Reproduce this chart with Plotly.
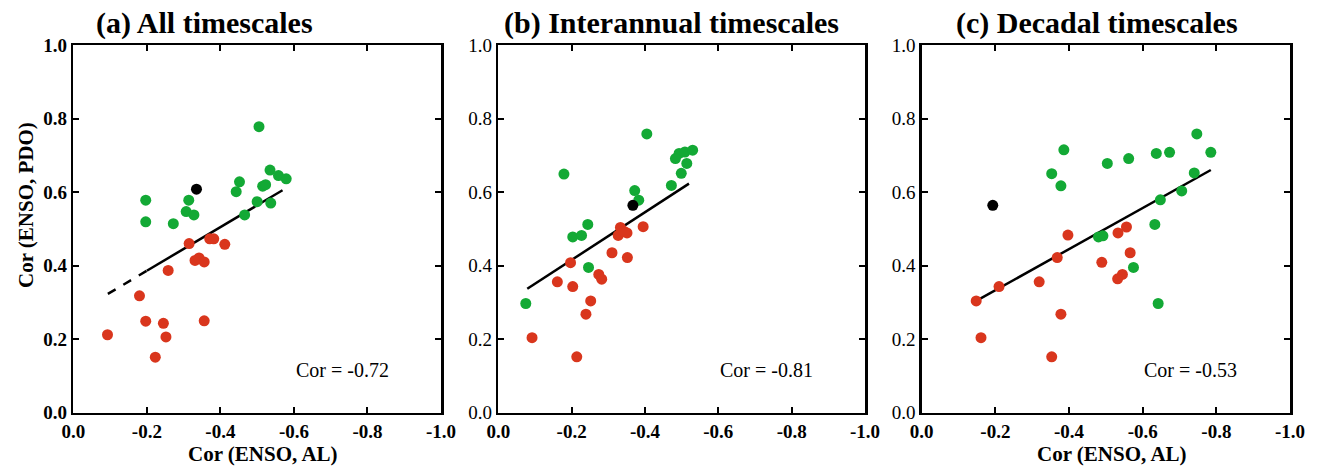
import plotly.graph_objects as go

# ---------------- data ----------------
# Panel (a) All timescales
a_green_x = [-0.505, -0.197, -0.197, -0.272, -0.307, -0.314, -0.328, -0.443, -0.452, -0.466,
             -0.500, -0.515, -0.523, -0.535, -0.537, -0.558, -0.579]
a_green_y = [0.778, 0.578, 0.519, 0.514, 0.547, 0.578, 0.538, 0.601, 0.628, 0.538,
             0.574, 0.616, 0.620, 0.660, 0.570, 0.645, 0.636]
a_red_x = [-0.315, -0.371, -0.382, -0.412, -0.331, -0.342, -0.356, -0.258, -0.180, -0.197,
           -0.245, -0.252, -0.356, -0.093, -0.223]
a_red_y = [0.460, 0.473, 0.473, 0.458, 0.414, 0.421, 0.410, 0.387, 0.318, 0.249,
           0.243, 0.206, 0.250, 0.212, 0.151]
a_black_x = [-0.335]
a_black_y = [0.608]
a_fit_x = [-0.094, -0.200, -0.569]   # dashed between first two, solid after
a_fit_y = [0.323, 0.386, 0.605]

# Panel (b) Interannual timescales
b_green_x = [-0.405, -0.179, -0.493, -0.509, -0.530, -0.483, -0.514, -0.499, -0.472, -0.372,
             -0.383, -0.244, -0.203, -0.227, -0.246, -0.075]
b_green_y = [0.758, 0.649, 0.705, 0.709, 0.714, 0.691, 0.678, 0.651, 0.618, 0.604,
             0.578, 0.512, 0.478, 0.482, 0.395, 0.297]
b_red_x = [-0.333, -0.327, -0.351, -0.343, -0.395, -0.310, -0.352, -0.197, -0.274, -0.282,
           -0.161, -0.203, -0.252, -0.239, -0.092, -0.214]
b_red_y = [0.504, 0.482, 0.489, 0.493, 0.506, 0.435, 0.422, 0.408, 0.376, 0.363,
           0.356, 0.343, 0.304, 0.268, 0.204, 0.152]
b_black_x = [-0.367]
b_black_y = [0.564]
b_fit_x = [-0.079, -0.520]
b_fit_y = [0.337, 0.623]

# Panel (c) Decadal timescales
c_green_x = [-0.747, -0.386, -0.637, -0.673, -0.562, -0.504, -0.353, -0.378, -0.740, -0.706,
             -0.648, -0.633, -0.480, -0.492, -0.575, -0.642, -0.785]
c_green_y = [0.758, 0.715, 0.705, 0.708, 0.691, 0.678, 0.650, 0.617, 0.652, 0.603,
             0.579, 0.512, 0.478, 0.481, 0.395, 0.297, 0.708]
c_red_x = [-0.397, -0.556, -0.533, -0.566, -0.368, -0.489, -0.545, -0.532, -0.210, -0.319,
           -0.148, -0.378, -0.161, -0.353]
c_red_y = [0.483, 0.505, 0.489, 0.435, 0.422, 0.409, 0.376, 0.364, 0.343, 0.356,
           0.304, 0.268, 0.204, 0.152]
c_black_x = [-0.193]
c_black_y = [0.564]
c_fit_x = [-0.148, -0.785]
c_fit_y = [0.304, 0.660]

titles = ["(a) All timescales", "(b) Interannual timescales", "(c) Decadal timescales"]
cor_labels = ["Cor = -0.72", "Cor = -0.81", "Cor = -0.53"]
x_ticks = [0.0, -0.2, -0.4, -0.6, -0.8, -1.0]
x_tick_text = ["0.0", "-0.2", "-0.4", "-0.6", "-0.8", "-1.0"]
y_ticks = [0.0, 0.2, 0.4, 0.6, 0.8, 1.0]
y_tick_text = ["0.0", "0.2", "0.4", "0.6", "0.8", "1.0"]

# ---------------- style ----------------
GREEN = "#13a935"
RED = "#d9361d"
BLACK = "#000000"
FONT = "Liberation Serif"
W, H = 1320, 468
PANEL_X = [(73.3, 441.0), (498.3, 865.0), (921.7, 1290.0)]  # window pixel extents
PANEL_Y = (45.0, 412.7)
TITLE_CX = [204, 672, 1097]  # title centres (px)


def fx_(px):
    return px / W


def fy_(py):
    return 1 - py / H


panels = [
    (a_green_x, a_green_y, a_red_x, a_red_y, a_black_x, a_black_y, a_fit_x, a_fit_y),
    (b_green_x, b_green_y, b_red_x, b_red_y, b_black_x, b_black_y, b_fit_x, b_fit_y),
    (c_green_x, c_green_y, c_red_x, c_red_y, c_black_x, c_black_y, c_fit_x, c_fit_y),
]

fig = go.Figure()
annotations = []

for i, (gx, gy, rx, ry, kx, ky, fx, fy) in enumerate(panels):
    xa = "x" if i == 0 else f"x{i+1}"
    ya = "y" if i == 0 else f"y{i+1}"
    if len(fx) == 3:
        fig.add_trace(go.Scatter(x=fx[:2], y=fy[:2], mode="lines",
                                 line=dict(color=BLACK, width=2.5, dash="dash"),
                                 xaxis=xa, yaxis=ya, showlegend=False, hoverinfo="skip"))
        fig.add_trace(go.Scatter(x=fx[1:], y=fy[1:], mode="lines",
                                 line=dict(color=BLACK, width=2.5),
                                 xaxis=xa, yaxis=ya, showlegend=False, hoverinfo="skip"))
    else:
        fig.add_trace(go.Scatter(x=fx, y=fy, mode="lines", line=dict(color=BLACK, width=2.5),
                                 xaxis=xa, yaxis=ya, showlegend=False, hoverinfo="skip"))
    for xs, ys, col in [(gx, gy, GREEN), (rx, ry, RED), (kx, ky, BLACK)]:
        fig.add_trace(go.Scatter(x=xs, y=ys, mode="markers",
                                 marker=dict(color=col, size=11, line=dict(width=0)),
                                 xaxis=xa, yaxis=ya, showlegend=False))

    px0, px1 = PANEL_X[i]
    dom_x = [fx_(px0), fx_(px1)]
    dom_y = [fy_(PANEL_Y[1]), fy_(PANEL_Y[0])]
    common = dict(showline=True, linewidth=2.5, linecolor="black", mirror="ticks",
                  ticks="inside", ticklen=6, tickwidth=2, tickcolor="black",
                  showgrid=False, zeroline=False, automargin=False)
    fig.layout[("xaxis" if i == 0 else f"xaxis{i+1}")] = dict(
        domain=dom_x, range=[0, -1], tickvals=x_ticks, ticktext=x_tick_text,
        tickfont=dict(family=FONT, size=19, color="black", weight="bold"),
        anchor=ya, **common)
    fig.layout[("yaxis" if i == 0 else f"yaxis{i+1}")] = dict(
        domain=dom_y, range=[0, 1], tickvals=y_ticks, ticktext=y_tick_text,
        tickfont=dict(family=FONT, size=19, color="black", weight="bold" if i == 0 else "normal"),
        anchor=xa, **common)

    annotations.append(dict(text=f"<b>{titles[i]}</b>", xref="paper", yref="paper",
                            x=fx_(TITLE_CX[i]), y=fy_(23), xanchor="center", yanchor="middle",
                            showarrow=False, font=dict(family=FONT, size=30, color="black")))
    annotations.append(dict(text=cor_labels[i], xref=xa, yref=ya, x=-0.731, y=0.115,
                            xanchor="center", yanchor="middle", showarrow=False,
                            font=dict(family=FONT, size=20, color="black")))
    if i in (0, 2):
        annotations.append(dict(text="<b>Cor (ENSO, AL)</b>", xref="paper", yref="paper",
                                x=fx_((px0 + px1) / 2 + 6), y=fy_(454), xanchor="center",
                                yanchor="middle", showarrow=False,
                                font=dict(family=FONT, size=21, color="black")))

annotations.append(dict(text="<b>Cor (ENSO, PDO)</b>", xref="paper", yref="paper",
                        x=fx_(26), y=fy_(205), xanchor="center", yanchor="middle", textangle=-90,
                        showarrow=False, font=dict(family=FONT, size=21, color="black")))

fig.update_layout(width=W, height=H, margin=dict(l=0, r=0, t=0, b=0, autoexpand=False),
                  paper_bgcolor="white", plot_bgcolor="white", annotations=annotations,
                  showlegend=False, hovermode=False)

fig.write_html("out.html", config={"displayModeBar": False, "staticPlot": True},
               post_script="document.body.style.margin='0px';document.body.style.overflow='hidden';")
